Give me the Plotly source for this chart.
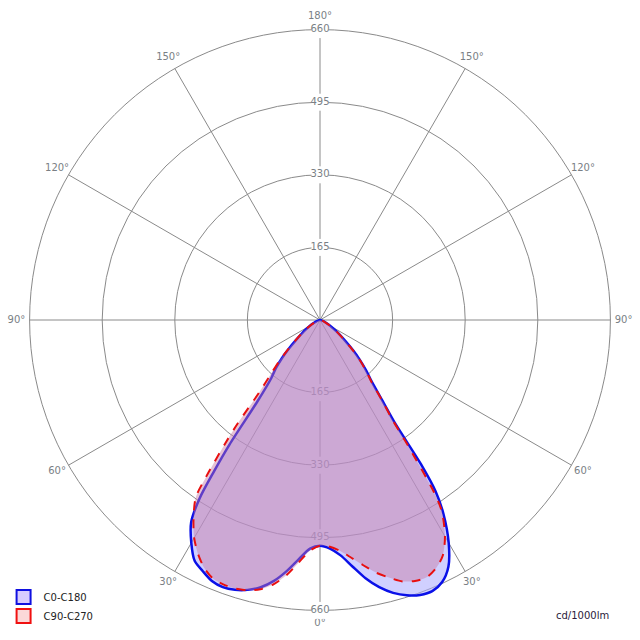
import plotly.graph_objects as go

# ---- data (cd/1000lm) ----
gamma_c0 = [0, 2.5, 5, 7.5, 10, 12.5, 15, 17.5, 20, 22.5, 25, 27.5, 30, 32.5, 34, 35, 36, 37.5, 40, 42.5, 45, 47.5, 50, 55, 60, 65, 70, 80, 90]
int_c0 = [513, 520, 537, 565, 596, 622, 642, 656, 665, 667, 657, 632, 585, 522, 470, 400, 290, 238, 183, 155, 128, 102, 78, 48, 28, 15, 8, 2, 0]

gamma_c180 = [0, 2.5, 5, 7.5, 10, 12.5, 15, 17.5, 20, 22.5, 25, 27.5, 30, 32.5, 34, 35, 36, 37.5, 40, 42.5, 45, 47.5, 50, 55, 60, 65, 70, 80, 90]
int_c180 = [513, 520, 545, 575, 602, 622, 635, 643, 646, 642, 630, 617, 585, 545, 490, 420, 350, 235, 172, 148, 122, 95, 72, 45, 27, 15, 8, 2, 0]

gamma_c90 = [0, 2.5, 5, 7.5, 10, 12.5, 15, 17.5, 20, 22.5, 25, 27.5, 30, 32.5, 33.5, 35, 36, 37.5, 40, 42.5, 45, 47.5, 50, 55, 60, 65, 70, 80, 90]
int_c90 = [513, 516, 527, 545, 566, 588, 606, 623, 631, 633, 623, 604, 568, 515, 470, 350, 280, 235, 180, 153, 127, 101, 77, 47, 28, 15, 8, 2, 0]

gamma_c270 = [0, 2.5, 5, 7.5, 10, 12.5, 15, 17.5, 20, 22.5, 25, 27.5, 30, 32.5, 35, 36, 37.5, 38.5, 40, 42.5, 45, 47.5, 50, 55, 60, 65, 70, 80, 90]
int_c270 = [513, 525, 553, 585, 610, 627, 636, 640, 640, 636, 622, 600, 572, 535, 492, 440, 355, 300, 215, 162, 128, 98, 74, 46, 27, 15, 8, 2, 0]

radial_ticks = [165, 330, 495, 660]
angle_ticks = [0, 30, 60, 90, 120, 150, 180, 210, 240, 270, 300, 330]
angle_labels = ["0°", "30°", "60°", "90°", "120°", "150°", "180°", "150°", "120°", "90°", "60°", "30°"]
r_max = 660        # outer ring
label_radius = 690  # where the angle labels sit
r_range = 700

series_names = ["C0-C180", "C90-C270"]


def closed_curve(g_right, i_right, g_left, i_left):
    theta = list(g_right) + [360 - g for g in reversed(g_left)]
    r = list(i_right) + list(reversed(i_left))
    return theta, r


FONT = "DejaVu Sans"
GRID = "#8a8a8a"
LABEL = "#7a7f85"

fig = go.Figure()

# spokes (angular grid) from centre to outer ring
spoke_r, spoke_t = [], []
for a in angle_ticks:
    spoke_r += [0, r_max, None]
    spoke_t += [a, a, None]
fig.add_trace(go.Scatterpolar(
    r=spoke_r, theta=spoke_t, mode="lines",
    line=dict(color=GRID, width=1), showlegend=False, hoverinfo="skip",
))

# angular labels outside the outer ring
fig.add_trace(go.Scatterpolar(
    r=[label_radius] * len(angle_ticks), theta=angle_ticks,
    mode="text", text=angle_labels, textposition="middle center",
    textfont=dict(family=FONT, size=10, color=LABEL),
    showlegend=False, hoverinfo="skip",
))

# radial value labels (with white backing boxes) along 0° and 180°
fig.add_trace(go.Scatterpolar(
    r=radial_ticks + radial_ticks,
    theta=[0] * len(radial_ticks) + [180] * len(radial_ticks),
    mode="markers+text",
    text=[str(v) for v in radial_ticks] * 2,
    textposition="middle center",
    textfont=dict(family=FONT, size=10, color=LABEL),
    marker=dict(symbol="square", size=17, color="white", line=dict(width=0)),
    showlegend=False, hoverinfo="skip",
))

t1, r1 = closed_curve(gamma_c0, int_c0, gamma_c180, int_c180)
t2, r2 = closed_curve(gamma_c90, int_c90, gamma_c270, int_c270)

fig.add_trace(go.Scatterpolar(
    r=r1, theta=t1, mode="lines", name=series_names[0], showlegend=False,
    fill="toself", fillcolor="rgba(170,170,255,0.55)",
    line=dict(color="#0a10e8", width=2.5, shape="spline", smoothing=0.8),
))
fig.add_trace(go.Scatterpolar(
    r=r2, theta=t2, mode="lines", name=series_names[1], showlegend=False,
    fill="toself", fillcolor="rgba(200,120,160,0.45)",
    line=dict(color="#e81010", width=2, dash="dash", shape="spline", smoothing=0.8),
))

# legend swatches
fig.add_trace(go.Scatterpolar(
    r=[None], theta=[None], mode="markers", name=series_names[0],
    marker=dict(symbol="square", size=14, color="#d8ccff", line=dict(color="#1010e0", width=2)),
))
fig.add_trace(go.Scatterpolar(
    r=[None], theta=[None], mode="markers", name=series_names[1],
    marker=dict(symbol="square", size=14, color="#fbd8d8", line=dict(color="#f01010", width=2)),
))

fig.update_layout(
    width=640, height=640,
    margin=dict(l=0, r=0, t=0, b=0),
    paper_bgcolor="white",
    font=dict(family=FONT, size=10, color="#333"),
    polar=dict(
        domain=dict(x=[12 / 640, 628 / 640], y=[12 / 640, 628 / 640]),
        bgcolor="white",
        radialaxis=dict(range=[0, r_range], tickvals=radial_ticks, showticklabels=False,
                        ticks="", showline=False, gridcolor=GRID, gridwidth=1),
        angularaxis=dict(rotation=270, direction="counterclockwise",
                         showticklabels=False, ticks="", showline=False, showgrid=False),
    ),
    legend=dict(x=0.0056, y=0.0148, xanchor="left", yanchor="bottom",
                bgcolor="rgba(0,0,0,0)", font=dict(family=FONT, size=10, color="#222"),
                tracegroupgap=0, itemwidth=30),
    annotations=[dict(text="cd/1000lm", xref="paper", yref="paper", x=0.9547, y=0.039,
                      xanchor="right", yanchor="middle", showarrow=False,
                      font=dict(family=FONT, size=10, color="#2a1a3a"))],
)

fig.write_html("out.html")
